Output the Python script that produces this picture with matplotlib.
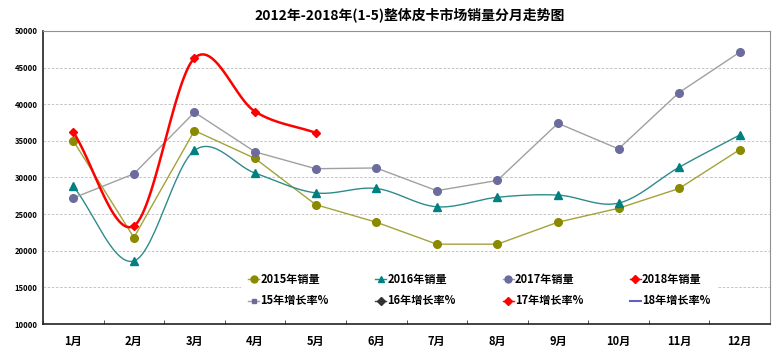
import matplotlib
matplotlib.use("Agg")
import matplotlib.pyplot as plt
from matplotlib.lines import Line2D
import numpy as np

plt.rcParams['font.family'] = ['Noto Sans CJK SC', 'DejaVu Sans']

months = ['1月', '2月', '3月', '4月', '5月', '6月', '7月', '8月', '9月', '10月', '11月', '12月']
sales_2015 = [35000, 21800, 36400, 32600, 26300, 23900, 20900, 20900, 23900, 25800, 28500, 33800]
sales_2016 = [28800, 18600, 33700, 30600, 27900, 28500, 26000, 27300, 27600, 26500, 31400, 35800]
sales_2017 = [27200, 30500, 38900, 33500, 31200, 31300, 28200, 29600, 37400, 33900, 41600, 47100]
sales_2018 = [36200, 23400, 46300, 39000, 36100]


def smooth(xs, ys, n=30):
    # Catmull-Rom curve through the points, like Excel's smoothed line
    xs = np.asarray(xs, float)
    ys = np.asarray(ys, float)
    px = np.concatenate([[2 * xs[0] - xs[1]], xs, [2 * xs[-1] - xs[-2]]])
    py = np.concatenate([[2 * ys[0] - ys[1]], ys, [2 * ys[-1] - ys[-2]]])
    outx, outy = [], []
    t = np.linspace(0, 1, n)
    for i in range(1, len(px) - 2):
        for p, out in ((px, outx), (py, outy)):
            p0, p1, p2, p3 = p[i - 1], p[i], p[i + 1], p[i + 2]
            out.extend(0.5 * (2 * p1 + (-p0 + p2) * t
                              + (2 * p0 - 5 * p1 + 4 * p2 - p3) * t ** 2
                              + (-p0 + 3 * p1 - 3 * p2 + p3) * t ** 3))
    return outx, outy


fig = plt.figure(figsize=(7.78, 3.52), dpi=100)
ax = fig.add_axes([0.0553, 0.0795, 0.9344, 0.8325])

x = np.arange(len(months))

# 2015 straight olive
ax.plot(x, sales_2015, color='#A3A33A', lw=1.0, zorder=3)
ax.plot(x, sales_2015, ls='none', marker='o', ms=5.5, color='#8A8A00', zorder=4)

# 2016 smoothed teal
sx, sy = smooth(x, sales_2016)
ax.plot(sx, sy, color='#2E8B8B', lw=1.0, zorder=3)
ax.plot(x, sales_2016, ls='none', marker='^', ms=5.5, color='#008080', zorder=4)

# 2017 gray line, purple markers
ax.plot(x, sales_2017, color='#A0A0A0', lw=1.0, zorder=3)
ax.plot(x, sales_2017, ls='none', marker='o', ms=5.5, color='#6B6B9E', zorder=4)

# 2018 smoothed red
x18 = np.arange(len(sales_2018))
sx, sy = smooth(x18, sales_2018)
ax.plot(sx, sy, color='#FF0000', lw=1.8, zorder=5)
ax.plot(x18, sales_2018, ls='none', marker='D', ms=4.5, color='#FF0000', zorder=6)

ax.set_xlim(-0.5, 11.5)
ax.set_ylim(10000, 50000)
ax.set_yticks(np.arange(10000, 50001, 5000))
ax.yaxis.grid(True, ls=(0, (3, 2)), color='#BBBBBB', lw=0.6)
ax.set_axisbelow(True)

ax.set_xticks(x)
ax.set_xticklabels(months, fontsize=8, fontweight='bold')
ax.set_xticks(np.arange(-0.5, 12, 1), minor=True)
ax.tick_params(axis='x', which='major', length=0, pad=8)
ax.tick_params(axis='x', which='minor', length=3, direction='in', color='#333333')
ax.tick_params(axis='y', labelsize=5.5, length=0, pad=4)
for lbl in ax.get_yticklabels():
    lbl.set_fontweight('bold')

ax.spines['left'].set_color('#222222')
ax.spines['bottom'].set_color('#222222')
ax.spines['left'].set_linewidth(1.2)
ax.spines['bottom'].set_linewidth(1.2)
ax.spines['top'].set_color('#909090')
ax.spines['right'].set_color('#909090')

handles = [
    Line2D([], [], color='#A3A33A', marker='o', ms=5, mfc='#8A8A00', mec='#8A8A00', lw=1),
    Line2D([], [], color='#A0A0A0', marker='s', ms=3, mfc='#6B6B9E', mec='#6B6B9E', lw=1),
    Line2D([], [], color='#2E8B8B', marker='^', ms=5, mfc='#008080', mec='#008080', lw=1),
    Line2D([], [], color='#444444', marker='D', ms=4, mfc='#333333', mec='#333333', lw=1),
    Line2D([], [], color='#A0A0A0', marker='o', ms=5, mfc='#6B6B9E', mec='#6B6B9E', lw=1),
    Line2D([], [], color='#FF0000', marker='D', ms=4, mfc='#FF0000', mec='#FF0000', lw=1),
    Line2D([], [], color='#FF0000', marker='D', ms=4, mfc='#FF0000', mec='#FF0000', lw=1),
    Line2D([], [], color='#6060C0', lw=1.5),
]
labels = ['2015年销量', '15年增长率%', '2016年销量', '16年增长率%',
          '2017年销量', '17年增长率%', '2018年销量', '18年增长率%']
leg = ax.legend(handles, labels, ncol=4, loc='lower center', bbox_to_anchor=(0.60, 0.015),
                frameon=True, framealpha=1, edgecolor='none', facecolor='white',
                prop={'weight': 'bold', 'size': 8}, handlelength=1.0, handletextpad=0.1,
                columnspacing=4.2, labelspacing=0.75, borderpad=0.6)
leg.set_zorder(2)

fig.suptitle('2012年-2018年(1-5)整体皮卡市场销量分月走势图', x=0.526, y=0.98,
             fontsize=10, fontweight='bold')

fig.savefig('out.png', dpi=100, facecolor='white')
